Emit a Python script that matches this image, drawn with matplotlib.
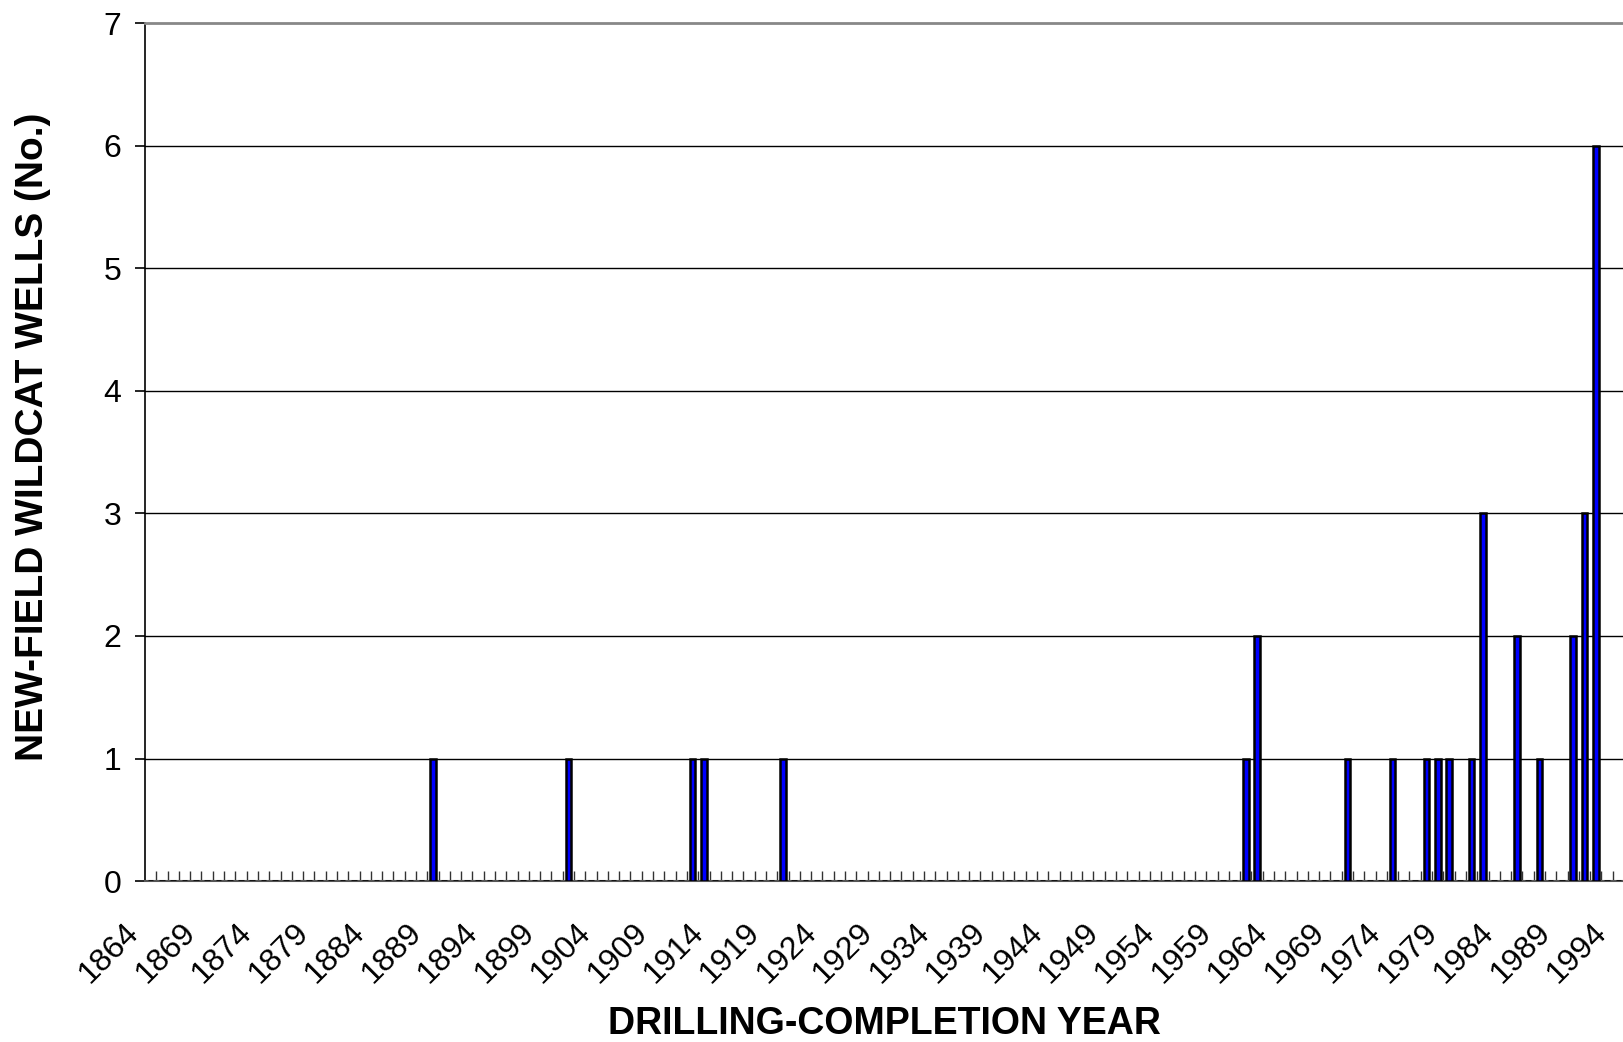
import matplotlib
matplotlib.use('Agg')
import matplotlib.pyplot as plt
import matplotlib.transforms as mtransforms

# Yillar ve kuyu sayilari
first_year = 1864
last_year = 1994
well_years = [1889, 1901, 1912, 1913, 1920, 1961, 1962, 1970, 1974, 1977,
              1978, 1979, 1981, 1982, 1985, 1987, 1990, 1991, 1992]
well_counts = [1, 1, 1, 1, 1, 1, 2, 1, 1, 1,
               1, 1, 1, 3, 2, 1, 2, 3, 6]
y_ticks = [0, 1, 2, 3, 4, 5, 6, 7]

years = list(range(first_year, last_year + 1))
counts = [0] * len(years)
for y, c in zip(well_years, well_counts):
    counts[y - first_year] = c
positions = list(range(len(years)))

plt.rcParams['font.family'] = ['Liberation Sans', 'DejaVu Sans']

fig = plt.figure(figsize=(16.24, 10.42), dpi=100)
ax = fig.add_axes([0.0893, 0.1545, 0.9107, 0.823])

ax.bar(positions, counts, width=0.5, color='#0000FF', edgecolor='black',
       linewidth=1.8, zorder=3)

ax.set_xlim(-0.5, len(years) - 0.5)
ax.set_ylim(0, 7)

# Yatay izgara cizgileri
for v in y_ticks[1:-1]:
    ax.axhline(v, color='black', linewidth=1.0, zorder=1)

ax.spines['right'].set_visible(False)
ax.spines['top'].set_color('#888888')
ax.spines['top'].set_linewidth(2.0)
ax.spines['left'].set_color('black')
ax.spines['left'].set_linewidth(1.2)
ax.spines['bottom'].set_color('#555555')
ax.spines['bottom'].set_linewidth(1.5)

ax.set_yticks(y_ticks)
ax.set_yticklabels([str(v) for v in y_ticks], fontsize=23)
ax.tick_params(axis='y', direction='out', length=7, width=1.2, pad=10)

# Etiketler her 5 yilda bir, kategori cizgileri her yil
label_pos = positions[::5]
ax.set_xticks(label_pos)
ax.set_xticklabels([str(years[i]) for i in label_pos], fontsize=23,
                   rotation=45, ha='right', va='center', rotation_mode='anchor')
ax.set_xticks([p - 0.5 for p in positions[1:]], minor=True)
ax.tick_params(axis='x', which='major', length=0, pad=34)
ax.tick_params(axis='x', which='minor', direction='in', length=7, width=1.0,
               color='#333333')

offset = mtransforms.ScaledTranslation(-16 / 100, 0, fig.dpi_scale_trans)
for lbl in ax.get_xticklabels():
    lbl.set_transform(lbl.get_transform() + offset)

ax.set_xlabel('DRILLING-COMPLETION YEAR', fontsize=27, fontweight='bold',
              labelpad=12)
ax.set_ylabel('NEW-FIELD WILDCAT WELLS (No.)', fontsize=28,
              fontweight='bold', labelpad=38)
ax.yaxis.label.set_y(0.518)

fig.savefig('out.png', dpi=100)
